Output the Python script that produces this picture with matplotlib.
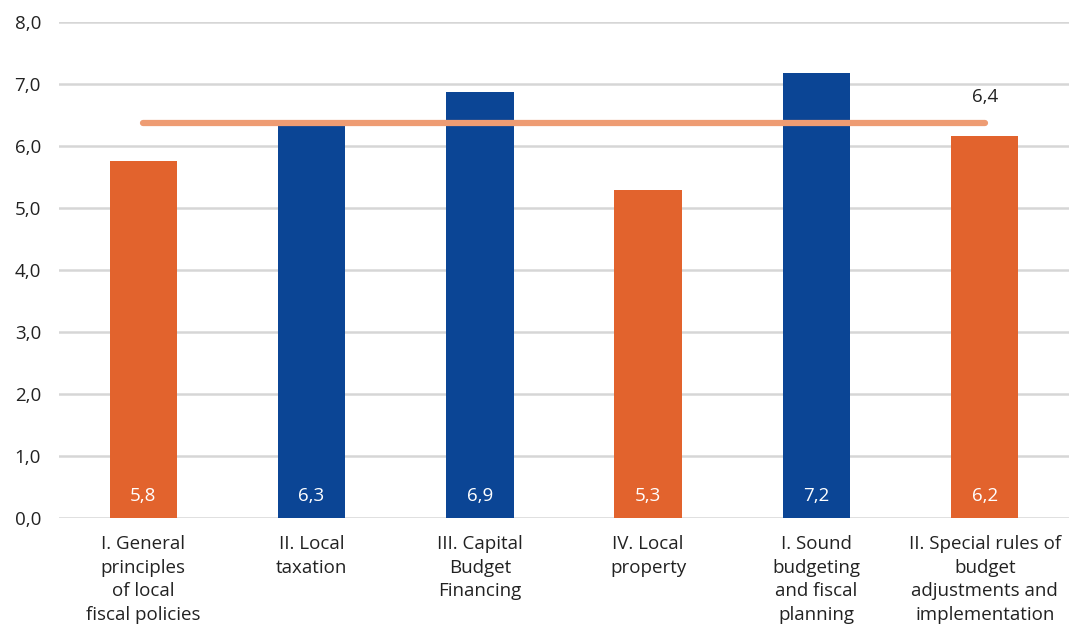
import matplotlib.pyplot as plt
import numpy as np

categories = ['I. General\nprinciples\nof local\nfiscal policies', 'II. Local\ntaxation',
              'III. Capital\nBudget\nFinancing', 'IV. Local\nproperty',
              'I. Sound\nbudgeting\nand fiscal\nplanning',
              'II. Special rules of\nbudget\nadjustments and\nimplementation']
values = [5.76, 6.35, 6.87, 5.29, 7.18, 6.16]
bar_colors = ['#E2632D', '#0B4595', '#0B4595', '#E2632D', '#0B4595', '#E2632D']
average = 6.37
yticks = [0, 1, 2, 3, 4, 5, 6, 7, 8]

plt.rcParams['font.family'] = ['Open Sans', 'DejaVu Sans']

fig = plt.figure(figsize=(10.69, 6.33), dpi=100)
ax = fig.add_axes([59 / 1069, 1 - 518 / 633, 1 - 59 / 1069, (518 - 22) / 633])

x = np.arange(len(categories))
ax.bar(x, values, width=0.40, color=bar_colors, zorder=3)
for xi, v in zip(x, values):
    ax.text(xi, 0.35, f'{v:.1f}'.replace('.', ','), ha='center', va='center',
            color='white', fontsize=13.5, zorder=4)

ax.plot([x[0], x[-1]], [average, average], color='#EE9C73', lw=4.5,
        solid_capstyle='round', zorder=4)
ax.text(x[-1], average + 0.42, f'{average:.1f}'.replace('.', ','), ha='center',
        va='center', color='#222222', fontsize=13.5)

ax.set_xlim(-0.5, 5.5)
ax.set_ylim(0, 8)
ax.set_yticks(yticks)
ax.set_yticklabels([f'{t:.1f}'.replace('.', ',') for t in yticks])
ax.set_xticks(x)
ax.set_xticklabels(categories, linespacing=1.42)
ax.yaxis.grid(True, color='#D6D6D6', lw=1.8, zorder=0)
ax.tick_params(axis='both', length=0, labelsize=13.5, colors='#222222')
ax.tick_params(axis='y', pad=13)
ax.tick_params(axis='x', pad=12)
for s in ax.spines.values():
    s.set_visible(False)

fig.savefig('out.png', dpi=100)
